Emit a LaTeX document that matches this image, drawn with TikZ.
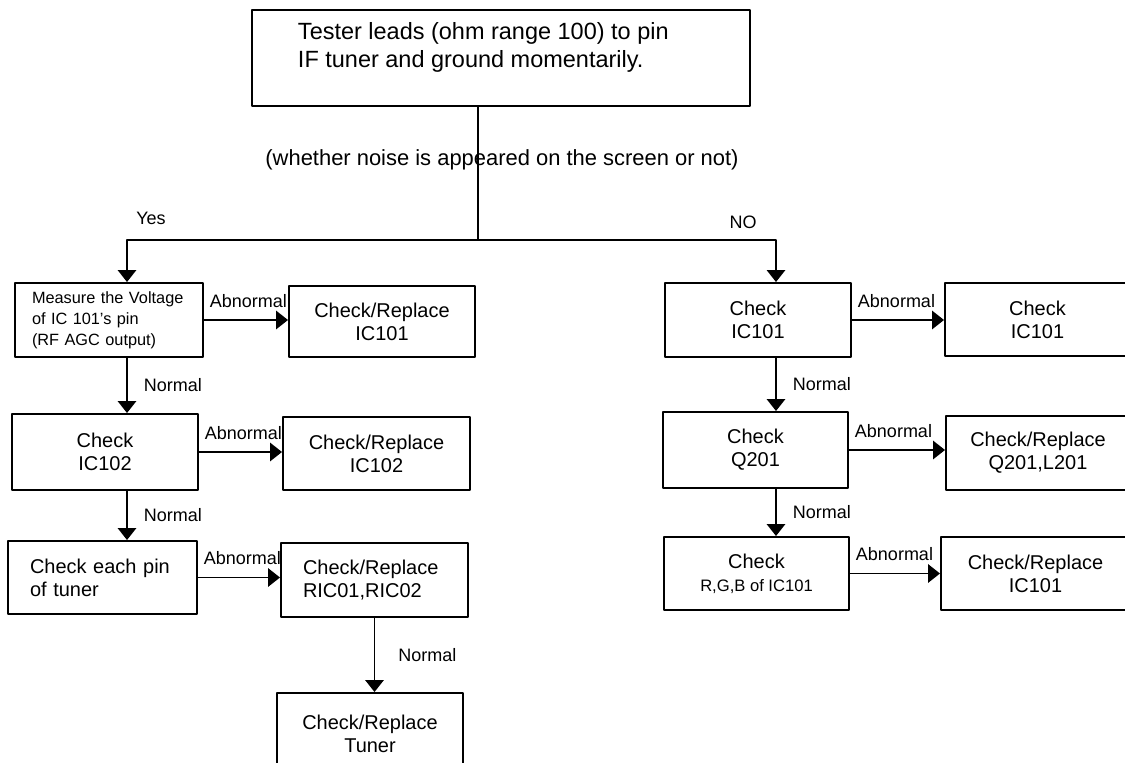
\documentclass[tikz,border=0pt]{standalone}
\usepackage{fontspec}
\setmainfont{Liberation Sans}
\usetikzlibrary{arrows.meta}
\newcommand{\fsz}[2]{\fontsize{#1}{#2}\selectfont}
\tikzset{
  box/.style={draw, inner sep=0pt, align=center, font=\fsz{14.2}{16.5}},
  sz/.style 2 args={minimum width=#1*\pw, minimum height=#2*\pw},
  lab/.style={inner sep=0pt, font=\fsz{12.8}{15}},
  ab/.style={lab, anchor=base west, xshift=5*\pw, yshift=13*\pw},
  nm/.style={lab, right, xshift=16*\pw}
}
\begin{document}
\begin{tikzpicture}[x=0.025cm, y=-0.025cm, line width=1.4pt, line join=round, >={Triangle[length=0.3cm, width=0.46cm]}]
\def\pw{0.025cm}
\useasboundingbox (0,0) rectangle (1125,763);
\clip (0,0) rectangle (1125,763);
\node (top) at (501,58) [box, sz={498}{96}] {};
\node (toptext) at (297,21) [anchor=north west, inner sep=0pt, align=left, font=\fsz{16.7}{20}] {Tester leads (ohm range 100) to pin\\IF tuner and ground momentarily.};
\node (noise) at (502,160) [lab, font=\fsz{15.6}{18}] {(whether noise is appeared on the screen or not)};
\node (yeslab) at (151,218) [lab] {Yes};
\node (nolab) at (743,222) [lab] {NO};
\node (measure) at (109,320) [box, sz={188}{74}, text width=154*\pw, align=left, font=\fsz{11.6}{15}] {Measure the Voltage\\of IC 101's pin\\(RF AGC output)};
\node (crepA) at (382,321.5) [box, sz={186}{71}] {Check/Replace\\IC101};
\node (chkA) at (758,320) [box, sz={186}{74}] {Check\\IC101};
\node (chkB) at (1037.5,319.5) [box, sz={185}{73}] {Check\\IC101};
\node (icB) at (105,452) [box, sz={186}{76}] {Check\\IC102};
\node (crepB) at (376.5,453.5) [box, sz={187}{73}] {Check/Replace\\IC102};
\node (qchk) at (755.5,450) [box, sz={185}{76}] {Check\\Q201};
\node (crepQ) at (1038,453) [box, sz={184}{74}] {Check/Replace\\Q201,L201};
\node (pin) at (102.5,577.5) [box, sz={189}{73}, text width=145*\pw, align=left] {Check each pin\\of tuner};
\node (ric) at (374.5,580) [box, sz={187}{74}, text width=143*\pw, align=left] {Check/Replace\\RIC01,RIC02};
\node (rgb) at (756.5,573.5) [box, sz={185}{73}] {Check\\{\fsz{11.8}{14}R,G,B of IC101}};
\node (crepC) at (1035.5,573.5) [box, sz={189}{73}] {Check/Replace\\IC101};
\node (tuner) at (370,734) [box, sz={186}{82}] {Check/Replace\\Tuner};
\coordinate (split) at (478,240);
\coordinate (yes) at (127,240);
\coordinate (no) at (776,240);
\draw (top.south -| split) -- (split);
\draw[->] (split) -- (yes) -- (yes |- measure.north);
\draw[->] (split) -- (no) -- (no |- chkA.north);
\draw[->] (measure.east) node[ab]{Abnormal} -- (measure.east -| crepA.west);
\draw[->] (icB.east) node[ab]{Abnormal} -- (icB.east -| crepB.west);
\draw[->] (pin.east) node[ab]{Abnormal} -- (pin.east -| ric.west);
\draw[->] (chkA.east) node[ab]{Abnormal} -- (chkA.east -| chkB.west);
\draw[->] (qchk.east) node[ab]{Abnormal} -- (qchk.east -| crepQ.west);
\draw[->] (rgb.east) node[ab]{Abnormal} -- (rgb.east -| crepC.west);
\draw[->] (measure.south -| yes) -- node[nm]{Normal} (icB.north -| yes);
\draw[->] (icB.south -| yes) -- node[nm]{Normal} (pin.north -| yes);
\draw[->] (chkA.south -| no) -- node[nm]{Normal} (qchk.north -| no);
\draw[->] (qchk.south -| no) -- node[nm]{Normal} (rgb.north -| no);
\draw[->] (ric.south) -- node[nm, xshift=7*\pw]{Normal} (ric.south |- tuner.north);
\end{tikzpicture}
\end{document}
